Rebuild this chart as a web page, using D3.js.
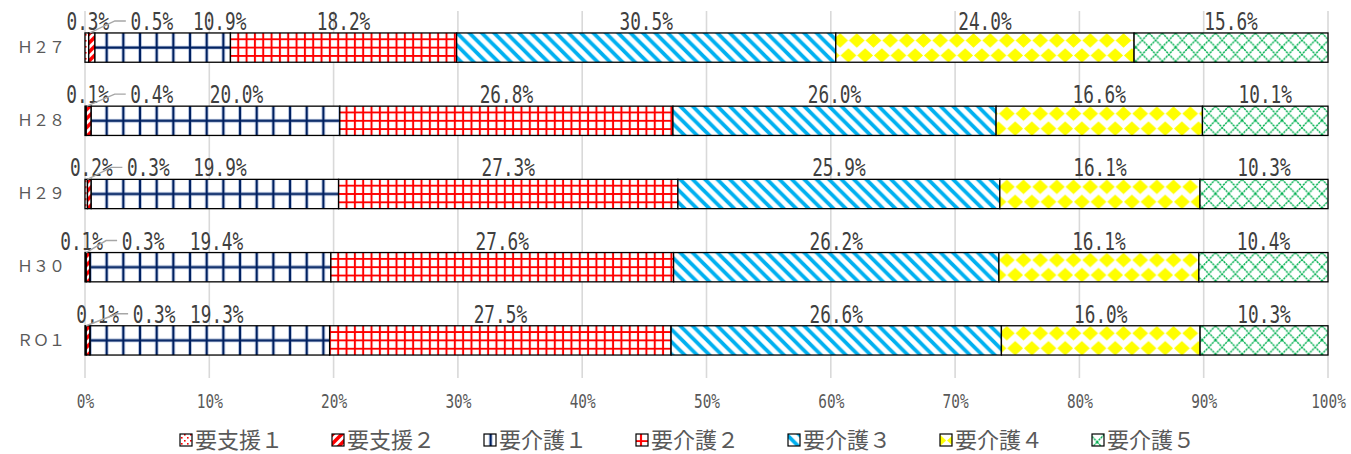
<!DOCTYPE html>
<html>
<head>
<meta charset="utf-8">
<script src="https://cdn.jsdelivr.net/npm/d3@7"></script>
<style>
  body { margin: 0; background: #fff; }
  svg { display: block; }
</style>
</head>
<body>
<div id="chart"></div>
<script>
// data (percent)
const years = ["Ｈ２７", "Ｈ２８", "Ｈ２９", "Ｈ３０", "ＲＯ１"];
const levels = ["要支援１", "要支援２", "要介護１", "要介護２", "要介護３", "要介護４", "要介護５"];
const shien1 = [0.3, 0.1, 0.2, 0.1, 0.1];
const shien2 = [0.5, 0.4, 0.3, 0.3, 0.3];
const kaigo1 = [10.9, 20.0, 19.9, 19.4, 19.3];
const kaigo2 = [18.2, 26.8, 27.3, 27.6, 27.5];
const kaigo3 = [30.5, 26.0, 25.9, 26.2, 26.6];
const kaigo4 = [24.0, 16.6, 16.1, 16.1, 16.0];
const kaigo5 = [15.6, 10.1, 10.3, 10.4, 10.3];
const xTicks = [0, 0.1, 0.2, 0.3, 0.4, 0.5, 0.6, 0.7, 0.8, 0.9, 1];

// label nudges (px) for the small segments, per row: [要支援１, 要支援２, 要介護１]
const labelShift = [
  [1, 60, 57],
  [2, 63, 21],
  [5, 59, 5],
  [-4, 55, 6],
  [12, 66, 7]
];

const series = [shien1, shien2, kaigo1, kaigo2, kaigo3, kaigo4, kaigo5];
const rows = years.map((yr, i) => {
  const o = { year: yr };
  levels.forEach((lv, j) => { o[lv] = series[j][i]; });
  return o;
});

const W = 1351, H = 454;
const textColor = "#595959";

const svg = d3.select("#chart").append("svg")
  .attr("width", W).attr("height", H);

const x = d3.scaleLinear().domain([0, 1]).range([85, 1328]);
const y = d3.scaleBand().domain(years).range([11, 377]).paddingInner(0.6).paddingOuter(0.3);

const stack = d3.stack().keys(levels).offset(d3.stackOffsetExpand);
const stacked = stack(rows);

// patterns, one set per row so the tiles line up with each bar
const defs = svg.append("defs");
function makePatterns(suffix, y0, x0) {
  // 要支援１ dots
  let p = defs.append("pattern").attr("id", "p0" + suffix).attr("patternUnits", "userSpaceOnUse")
    .attr("x", x0).attr("y", y0).attr("width", 6).attr("height", 6);
  p.append("rect").attr("width", 6).attr("height", 6).attr("fill", "#fff");
  p.append("rect").attr("x", 1).attr("y", 1).attr("width", 1.6).attr("height", 1.6).attr("fill", "#ff0000");
  p.append("rect").attr("x", 4).attr("y", 4).attr("width", 1.6).attr("height", 1.6).attr("fill", "#ff0000");

  // 要支援２ wide upward diagonal
  p = defs.append("pattern").attr("id", "p1" + suffix).attr("patternUnits", "userSpaceOnUse")
    .attr("x", x0).attr("y", y0).attr("width", 9).attr("height", 9);
  p.append("rect").attr("width", 9).attr("height", 9).attr("fill", "#fff");
  p.append("path").attr("d", "M-2,2 L2,-2 M0,9 L9,0 M7,11 L11,7")
    .attr("stroke", "#ff0000").attr("stroke-width", 3.6);

  // 要介護１ large grid, navy
  const gw = 16.67, gh = 30;
  p = defs.append("pattern").attr("id", "p2" + suffix).attr("patternUnits", "userSpaceOnUse")
    .attr("x", 90).attr("y", y0).attr("width", gw).attr("height", gh);
  p.append("rect").attr("width", gw).attr("height", gh).attr("fill", "#fff");
  const gpath = `M0,0 V${gh} M${gw},0 V${gh} M0,14.6 H${gw}`;
  p.append("path").attr("d", gpath).attr("stroke", "#c9d6ee").attr("stroke-width", 3.6);
  p.append("path").attr("d", gpath).attr("stroke", "#002060").attr("stroke-width", 2.2);

  // 要介護２ small grid, red
  const sg = 8.33;
  p = defs.append("pattern").attr("id", "p3" + suffix).attr("patternUnits", "userSpaceOnUse")
    .attr("x", 88.3).attr("y", y0 + 6.3).attr("width", sg).attr("height", sg);
  p.append("rect").attr("width", sg).attr("height", sg).attr("fill", "#fff");
  p.append("path").attr("d", `M0,0 V${sg} M${sg},0 V${sg} M0,0 H${sg} M0,${sg} H${sg}`)
    .attr("stroke", "#ff0000").attr("stroke-width", 2);

  // 要介護３ wide downward diagonal, light blue
  const dg = 12.4;
  p = defs.append("pattern").attr("id", "p4" + suffix).attr("patternUnits", "userSpaceOnUse")
    .attr("x", 85).attr("y", y0).attr("width", dg).attr("height", dg);
  p.append("rect").attr("width", dg).attr("height", dg).attr("fill", "#fff");
  p.append("path").attr("d", `M-3,${dg - 3} L3,${dg + 3} M0,0 L${dg},${dg} M${dg - 3},-3 L${dg + 3},3`)
    .attr("stroke", "#00b0f0").attr("stroke-width", 3.8);

  // 要介護４ solid diamonds, yellow
  const yw = 16.67, yh = 30;
  p = defs.append("pattern").attr("id", "p5" + suffix).attr("patternUnits", "userSpaceOnUse")
    .attr("x", 90 - yw / 2).attr("y", y0).attr("width", yw).attr("height", yh);
  p.append("rect").attr("width", yw).attr("height", yh).attr("fill", "#fff");
  const dia = (cx, cy) => `M${cx - 7.9},${cy} L${cx},${cy - 7.2} L${cx + 7.9},${cy} L${cx},${cy + 7.2} Z`;
  p.append("path").attr("d", dia(yw / 2, 7.5) + dia(0, 22.5) + dia(yw, 22.5) + dia(yw / 2, 37.5) + dia(0, -7.5) + dia(yw, -7.5))
    .attr("fill", "#ffff00");

  // 要介護５ outlined diamonds, green
  const tw = 13.3, th = 14.2;
  p = defs.append("pattern").attr("id", "p6" + suffix).attr("patternUnits", "userSpaceOnUse")
    .attr("x", 85).attr("y", y0).attr("width", tw).attr("height", th);
  p.append("rect").attr("width", tw).attr("height", th).attr("fill", "#fff");
  p.append("path").attr("d", `M0,0 L${tw},${th} M${tw},0 L0,${th}`)
    .attr("stroke", "#00b050").attr("stroke-width", 1.4).attr("stroke-dasharray", "2.2 0.8");
}
years.forEach((yr, i) => makePatterns("r" + i, y(yr), 0));

// gridlines
svg.append("g").selectAll("line").data(xTicks).join("line")
  .attr("x1", d => x(d)).attr("x2", d => x(d))
  .attr("y1", 11).attr("y2", 378)
  .attr("stroke", "#d9d9d9").attr("stroke-width", 1.6);

// bars
svg.append("g").selectAll("g").data(stacked).join("g")
  .each(function(s, j) {
    d3.select(this).selectAll("rect").data(s).join("rect")
      .attr("x", d => x(d[0]))
      .attr("y", d => y(d.data.year))
      .attr("width", d => x(d[1]) - x(d[0]))
      .attr("height", y.bandwidth())
      .attr("fill", (d, i) => `url(#p${j}r${i})`)
      .attr("stroke", "#000")
      .attr("stroke-width", 1.3);
  });

// data labels
const labelFont = "'DejaVu Sans Mono', 'Liberation Mono', monospace";
const lab = svg.append("g");
stacked.forEach((s, j) => {
  s.forEach((d, i) => {
    let cx = (x(d[0]) + x(d[1])) / 2;
    if (j < 3) cx += labelShift[i][j];
    const by = y(d.data.year) - 3;
    if (j === 1) {
      const sx = (x(d[0]) + x(d[1])) / 2;
      const left = cx - 25;
      const my = by - 9;
      lab.append("path")
        .attr("d", `M${sx - 2},${y(d.data.year)} L${left - 12},${my} L${left - 1},${my}`)
        .attr("fill", "none").attr("stroke", "#a6a6a6").attr("stroke-width", 1.4);
    }
    lab.append("text")
      .attr("transform", `translate(${cx},${by}) scale(0.71,1)`)
      .attr("text-anchor", "middle")
      .attr("font-family", labelFont)
      .attr("font-size", 25)
      .attr("fill", "#404040")
      .text(series[j][i].toFixed(1) + "%");
  });
});

// row labels
const ya = svg.append("g").attr("transform", "translate(65,0)")
  .call(d3.axisLeft(y).tickSize(0).tickPadding(0));
ya.select(".domain").remove();
ya.selectAll("text")
  .attr("font-family", "'Noto Sans CJK JP', sans-serif")
  .attr("font-size", 16).attr("fill", textColor);

// x axis labels
const xa = svg.append("g").attr("transform", "translate(0,394)")
  .call(d3.axisBottom(x).tickValues(xTicks).tickFormat(d3.format(".0%")).tickSize(0).tickPadding(0));
xa.select(".domain").remove();
xa.selectAll("text")
  .attr("font-family", labelFont)
  .attr("font-size", 20).attr("fill", textColor)
  .attr("transform", "scale(0.72,1)");

// legend
const legStep = 152, legX0 = 180, legY = 434;
levels.forEach((lv, j) => makePatterns("L" + j, legY, legX0 + j * legStep));
const leg = svg.append("g").selectAll("g").data(levels).join("g")
  .attr("transform", (d, j) => `translate(${legX0 + j * legStep},${legY})`);
leg.append("rect")
  .attr("width", 12).attr("height", 12)
  .attr("fill", (d, j) => `url(#p${j}L${j})`)
  .attr("stroke", "#000").attr("stroke-width", 1.2);
leg.append("text")
  .attr("x", 15).attr("y", 14)
  .attr("font-family", "'Noto Sans CJK JP', sans-serif")
  .attr("font-size", 22).attr("fill", textColor)
  .text(d => d);
</script>
</body>
</html>
